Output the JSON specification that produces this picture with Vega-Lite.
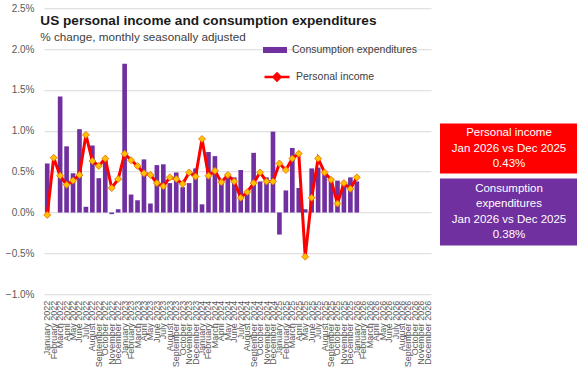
{
  "$schema": "https://vega.github.io/schema/vega-lite/v6.json",
  "padding": {"left": 5, "top": 3, "right": 0, "bottom": 0},
  "background": "white",
  "config": {
    "font": "Liberation Sans",
    "view": {"stroke": null},
    "axis": {"labelFont": "Liberation Sans", "labelColor": "#595959"},
    "legend": {"labelFont": "Liberation Sans"}
  },
  "title": {
    "text": "US personal income and consumption expenditures",
    "subtitle": "% change, monthly seasonally adjusted",
    "anchor": "start",
    "frame": "bounds",
    "offset": -40,
    "dx": 35,
    "fontSize": 13.6,
    "fontWeight": "bold",
    "color": "#1a1a1a",
    "subtitleFontSize": 11.7,
    "subtitleColor": "#404040",
    "subtitlePadding": 4
  },
  "spacing": 7,
  "center": true,
  "hconcat": [
    {
      "width": 387,
      "height": 286,
      "data": {
        "values": [
          {"month": "January 2022", "consumption": 0.60, "income": -0.03},
          {"month": "February 2022", "consumption": 0.0, "income": 0.67},
          {"month": "March 2022", "consumption": 1.42, "income": 0.45},
          {"month": "April 2022", "consumption": 0.81, "income": 0.34},
          {"month": "May 2022", "consumption": 0.48, "income": 0.39},
          {"month": "June 2022", "consumption": 1.02, "income": 0.46},
          {"month": "July 2022", "consumption": 0.07, "income": 0.95},
          {"month": "August 2022", "consumption": 0.82, "income": 0.63},
          {"month": "September 2022", "consumption": 0.42, "income": 0.57},
          {"month": "October 2022", "consumption": 0.66, "income": 0.66},
          {"month": "November 2022", "consumption": -0.02, "income": 0.30},
          {"month": "December 2022", "consumption": 0.04, "income": 0.41},
          {"month": "January 2023", "consumption": 1.82, "income": 0.72},
          {"month": "February 2023", "consumption": 0.22, "income": 0.64},
          {"month": "March 2023", "consumption": 0.15, "income": 0.57},
          {"month": "April 2023", "consumption": 0.65, "income": 0.48},
          {"month": "May 2023", "consumption": 0.11, "income": 0.46},
          {"month": "June 2023", "consumption": 0.58, "income": 0.36},
          {"month": "July 2023", "consumption": 0.59, "income": 0.32},
          {"month": "August 2023", "consumption": 0.36, "income": 0.43},
          {"month": "September 2023", "consumption": 0.49, "income": 0.41},
          {"month": "October 2023", "consumption": 0.31, "income": 0.35},
          {"month": "November 2023", "consumption": 0.36, "income": 0.49},
          {"month": "December 2023", "consumption": 0.54, "income": 0.44},
          {"month": "January 2024", "consumption": 0.10, "income": 0.90},
          {"month": "February 2024", "consumption": 0.74, "income": 0.45},
          {"month": "March 2024", "consumption": 0.69, "income": 0.51},
          {"month": "April 2024", "consumption": 0.39, "income": 0.37},
          {"month": "May 2024", "consumption": 0.46, "income": 0.46},
          {"month": "June 2024", "consumption": 0.43, "income": 0.38},
          {"month": "July 2024", "consumption": 0.52, "income": 0.18},
          {"month": "August 2024", "consumption": 0.23, "income": 0.25},
          {"month": "September 2024", "consumption": 0.73, "income": 0.36},
          {"month": "October 2024", "consumption": 0.38, "income": 0.49},
          {"month": "November 2024", "consumption": 0.43, "income": 0.38},
          {"month": "December 2024", "consumption": 0.99, "income": 0.38},
          {"month": "January 2025", "consumption": -0.27, "income": 0.60},
          {"month": "February 2025", "consumption": 0.27, "income": 0.52},
          {"month": "March 2025", "consumption": 0.79, "income": 0.66},
          {"month": "April 2025", "consumption": 0.30, "income": 0.72},
          {"month": "May 2025", "consumption": 0.04, "income": -0.54},
          {"month": "June 2025", "consumption": 0.54, "income": 0.18},
          {"month": "July 2025", "consumption": 0.55, "income": 0.66},
          {"month": "August 2025", "consumption": 0.51, "income": 0.49},
          {"month": "September 2025", "consumption": 0.42, "income": 0.40},
          {"month": "October 2025", "consumption": 0.39, "income": 0.11},
          {"month": "November 2025", "consumption": 0.37, "income": 0.36},
          {"month": "December 2025", "consumption": 0.43, "income": 0.29},
          {"month": "January 2026", "consumption": 0.38, "income": 0.43},
          {"month": "February 2026", "consumption": null, "income": null},
          {"month": "March 2026", "consumption": null, "income": null},
          {"month": "April 2026", "consumption": null, "income": null},
          {"month": "May 2026", "consumption": null, "income": null},
          {"month": "June 2026", "consumption": null, "income": null},
          {"month": "July 2026", "consumption": null, "income": null},
          {"month": "August 2026", "consumption": null, "income": null},
          {"month": "September 2026", "consumption": null, "income": null},
          {"month": "October 2026", "consumption": null, "income": null},
          {"month": "November 2026", "consumption": null, "income": null},
          {"month": "December 2026", "consumption": null, "income": null}
        ]
      },
      "layer": [
        {
          "mark": {"type": "bar"},
          "encoding": {
            "x": {
              "field": "month",
              "type": "ordinal",
              "sort": null,
              "scale": {"paddingInner": 0.28, "paddingOuter": 0.14},
              "axis": {
                "title": null,
                "labelAngle": -90,
                "labelFontSize": 9,
                "labelPadding": 6,
                "ticks": false,
                "domain": false,
                "grid": false,
                "labelOverlap": false
              }
            },
            "y": {
              "field": "consumption",
              "type": "quantitative",
              "scale": {"domain": [-1, 2.5], "nice": false, "zero": false},
              "axis": {
                "title": null,
                "values": [-1, -0.5, 0, 0.5, 1, 1.5, 2, 2.4999],
                "labelExpr": "format(datum.value, '.1f') + '%'",
                "grid": true,
                "gridColor": "#D9D9D9",
                "domain": false,
                "ticks": false,
                "labelPadding": 10,
                "labelFontSize": 10,
                "labelOverlap": false,
                "labelBound": false,
                "labelFlush": false
              }
            },
            "fill": {
              "datum": "Consumption expenditures",
              "scale": {"range": ["#7030A0"]},
              "legend": {
                "title": null,
                "orient": "none",
                "legendX": 219,
                "legendY": 30,
                "symbolType": "M-1,-0.25H1V0.25H-1Z",
                "symbolSize": 576,
                "symbolStrokeWidth": 0,
                "labelFontSize": 10.5,
                "labelColor": "#404040",
                "labelOffset": 5
              }
            }
          }
        },
        {
          "mark": {"type": "line", "strokeWidth": 3},
          "encoding": {
            "x": {"field": "month", "type": "ordinal", "sort": null},
            "y": {"field": "income", "type": "quantitative"},
            "stroke": {
              "datum": "Personal income",
              "scale": {"range": ["#FF0000"]},
              "legend": {
                "title": null,
                "orient": "none",
                "legendX": 219,
                "legendY": 55,
                "symbolType": "M-1,0H1M0,-0.28L0.28,0L0,0.28L-0.28,0Z",
                "symbolSize": 625,
                "symbolStrokeWidth": 2.5,
                "symbolFillColor": "#FFC000",
                "labelFontSize": 10.5,
                "labelColor": "#404040",
                "labelOffset": 5
              }
            }
          }
        },
        {
          "mark": {
            "type": "point",
            "shape": "diamond",
            "filled": true,
            "size": 49,
            "fill": "#FFC000",
            "stroke": "#E46C0A",
            "strokeWidth": 0.8,
            "opacity": 1
          },
          "encoding": {
            "x": {"field": "month", "type": "ordinal", "sort": null},
            "y": {"field": "income", "type": "quantitative"}
          }
        }
      ]
    },
    {
      "spacing": 5,
      "vconcat": [
        {
          "width": 138,
          "height": 50,
          "view": {"fill": "#FF0000", "stroke": null},
          "data": {"values": [{"label": "Personal income\nJan 2026 vs Dec 2025\n0.43%"}]},
          "mark": {
            "type": "text",
            "color": "white",
            "fontSize": 11.5,
            "lineBreak": "\n",
            "lineHeight": 15.5,
            "align": "center",
            "baseline": "middle",
            "dy": -15.5,
            "font": "Liberation Sans"
          },
          "encoding": {"text": {"field": "label"}}
        },
        {
          "width": 138,
          "height": 67,
          "view": {"fill": "#7030A0", "stroke": null},
          "title": {"text": " ", "orient": "bottom", "fontSize": 2, "offset": 4},
          "data": {"values": [{"label": "Consumption\nexpenditures\nJan 2026 vs Dec 2025\n0.38%"}]},
          "mark": {
            "type": "text",
            "color": "white",
            "fontSize": 11.5,
            "lineBreak": "\n",
            "lineHeight": 15.5,
            "align": "center",
            "baseline": "middle",
            "dy": -23.25,
            "font": "Liberation Sans"
          },
          "encoding": {"text": {"field": "label"}}
        }
      ]
    }
  ]
}
